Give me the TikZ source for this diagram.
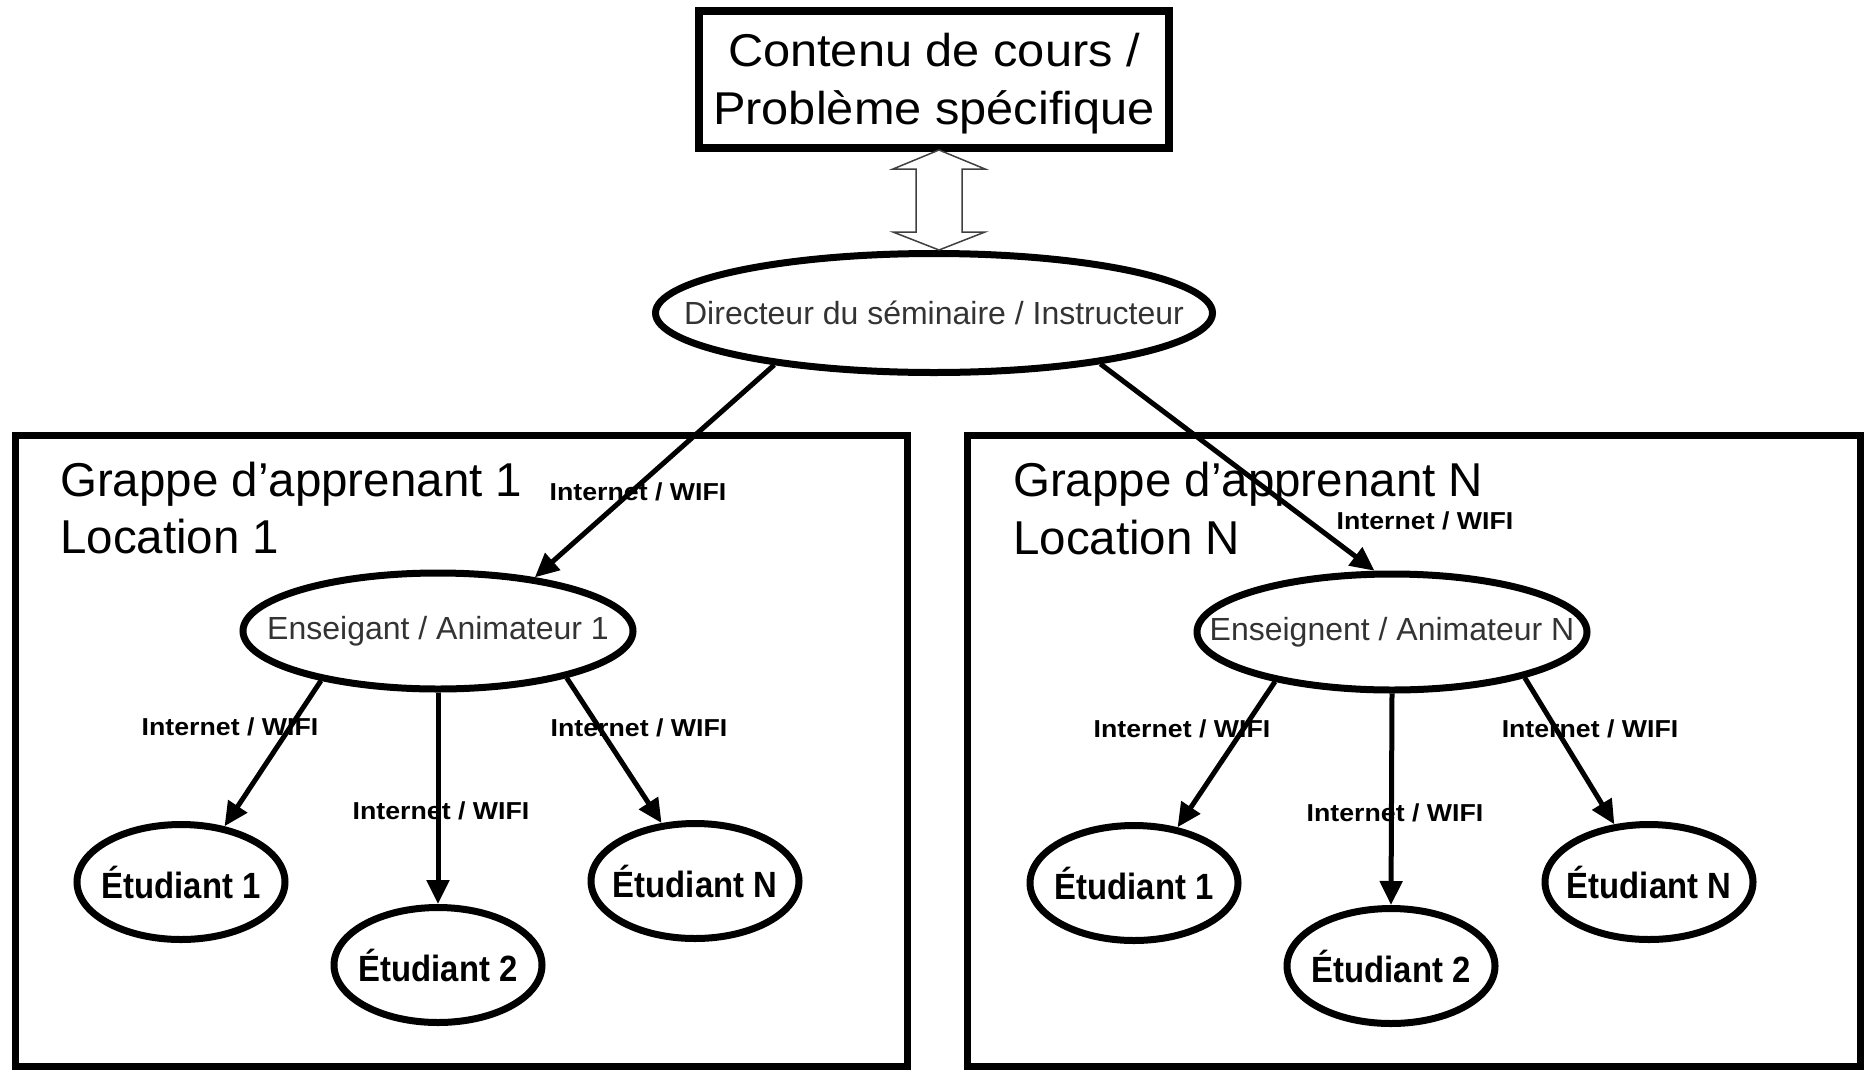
\documentclass[tikz,border=0pt]{standalone}
\usepackage{fontspec}
\setmainfont{Liberation Sans}
\newfontfamily\wideface[FakeStretch=1.06]{Liberation Sans}
\newfontfamily\tagface[FakeStretch=1.09]{Liberation Sans}
\newfontfamily\studface[FakeStretch=0.9]{Liberation Sans}
\usetikzlibrary{shapes.geometric,arrows.meta,calc}
\newcommand\zwbox[1]{\makebox[0pt]{#1}}
\begin{document}
\begin{tikzpicture}[x=1pt,y=-1pt,
  topbox/.style={draw, line width=8pt, minimum width=470pt, minimum height=137pt},
  toptext/.style={align=center, inner sep=0pt, yshift=-4pt,
    font=\wideface\fontsize{46}{57.5}\selectfont},
  frame/.style={draw, line width=7pt, inner sep=0pt, minimum width=891.5pt, minimum height=631pt},
  oval/.style={ellipse, draw, line width=7pt, inner sep=0pt},
  leader/.style={oval, minimum width=390pt, minimum height=116pt,
    font=\fontsize{32}{38}\selectfont, text=black!80},
  stud/.style={oval, minimum width=208pt, minimum height=115pt,
    font=\studface\bfseries\fontsize{36.5}{44}\selectfont},
  title/.style={anchor=base west, inner sep=0pt, font=\fontsize{47.5}{57}\selectfont},
  net/.style={inner sep=0pt, font=\tagface\bfseries\fontsize{24.5}{30}\selectfont},
  link/.style={line width=5pt, -{Triangle[length=24pt,width=22pt]}},
  hollow/.style={draw=black!75, line width=1.5pt, fill=white, line join=miter}
]
\useasboundingbox (0,0) rectangle (1865,1071);
\fill[white] (0,0) rectangle (1865,1071);

% course content and seminar director
\node[topbox, label={[toptext]center:Contenu de cours /\\Problème spécifique}] (src) at (934,79.5) {};
\node[oval, minimum width=557pt, minimum height=119pt,
  font=\fontsize{32}{38}\selectfont, text=black!80] (dir) at (934,313)
  {\zwbox{Directeur du séminaire / Instructeur}};

% two-way exchange between content and director
\draw[hollow] ($(src.south)+(5,-2)$) -- ++(46,19) -- ++(-23,0) -- ++(0,63) -- ++(23,0)
  -- ++(-46,18) -- ++(-46,-18) -- ++(23,0) -- ++(0,-63) -- ++(-23,0) -- cycle;

% learner clusters
\node[frame] (boxL) at (461.25,751) {};
\node[frame, minimum width=893pt] (boxR) at (1413.5,751) {};

\node[title] (gL) at (60,496) {Grappe d’apprenant 1};
\node[title] (locL) at (60,553) {Location 1};
\node[title] (gR) at (1013,496) {Grappe d’apprenant N};
\node[title] (locR) at (1013,554) {Location N};

% teachers / facilitators
\node[leader] (tL) at (438,631) {\zwbox{Enseigant / Animateur 1}};
\node[leader] (tR) at (1392,632) {\zwbox{Enseignent / Animateur N}};

% students
\node[stud] (sL1) at (181,882) {\zwbox{Étudiant 1}};
\node[stud] (sL2) at (438,965) {\zwbox{Étudiant 2}};
\node[stud] (sLN) at (695,881) {\zwbox{Étudiant N}};
\node[stud] (sR1) at (1134,883) {\zwbox{Étudiant 1}};
\node[stud] (sR2) at (1391,966) {\zwbox{Étudiant 2}};
\node[stud] (sRN) at (1649,882) {\zwbox{Étudiant N}};

% link labels
\node[net] (nL) at (638,492) {Internet / WIFI};
\node[net] (nR) at (1425,521) {Internet / WIFI};
\node[net] (nL1) at (230,727) {Internet / WIFI};
\node[net] (nL2) at (441,811) {Internet / WIFI};
\node[net] (nLN) at (639,728) {Internet / WIFI};
\node[net] (nR1) at (1182,729) {Internet / WIFI};
\node[net] (nR2) at (1395,813) {Internet / WIFI};
\node[net] (nRN) at (1590,729) {Internet / WIFI};

% network links
\draw[link] (dir.198) -- (tL.29);
\draw[link] (dir.343) -- (tR.106);
\draw[link] (tL.203) -- (sL1.52);
\draw[link] (tL.south) -- (sL2.north);
\draw[link] (tL.340) -- (sLN.120);
\draw[link] (tR.203) -- (sR1.52);
\draw[link] (tR.south) -- (sR2.north);
\draw[link] (tR.341) -- (sRN.121);
\end{tikzpicture}
\end{document}
